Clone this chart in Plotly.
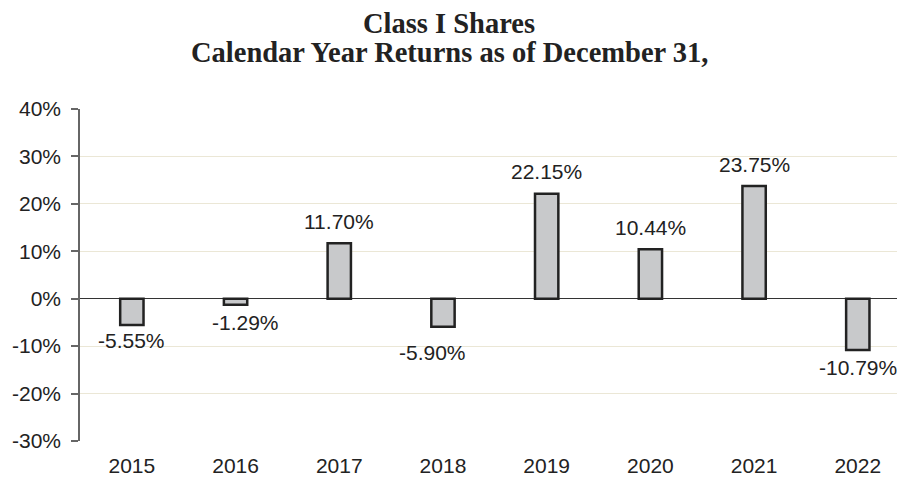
import plotly.graph_objects as go

years = ["2015", "2016", "2017", "2018", "2019", "2020", "2021", "2022"]
returns = [-5.55, -1.29, 11.70, -5.90, 22.15, 10.44, 23.75, -10.79]
value_labels = ["-5.55%", "-1.29%", "11.70%", "-5.90%", "22.15%", "10.44%", "23.75%", "-10.79%"]
y_tickvals = [-30, -20, -10, 0, 10, 20, 30, 40]
y_ticktext = ["-30%", "-20%", "-10%", "0%", "10%", "20%", "30%", "40%"]
title_lines = ["Class I Shares", "Calendar Year Returns as of December 31,"]

# label pixel offsets (styling)
label_dy = [-15, -18, 22, -26, 22, 22, 22, -18]
label_dx = [0, 10, 0, -10, 0, 0, 0, 0]

fig = go.Figure()
fig.add_trace(go.Bar(
    x=years, y=returns, width=0.225,
    marker=dict(color="#c8c9cb", line=dict(color="#222222", width=2.5)),
    hoverinfo="skip",
))

for i, (v, t, dy, dx) in enumerate(zip(returns, value_labels, label_dy, label_dx)):
    fig.add_annotation(x=i, y=v, text=t, showarrow=False, xref="x", yref="y",
                       yanchor="middle", xanchor="center", yshift=dy, xshift=dx,
                       font=dict(family="Liberation Sans, Arial", size=21, color="#222222"))

for line, ys in zip(title_lines, [86, 57]):
    fig.add_annotation(x=0.452, y=1, xref="paper", yref="paper", text="<b>" + line + "</b>",
                       showarrow=False, xanchor="center", yanchor="middle", yshift=ys,
                       font=dict(family="Liberation Serif, Times New Roman", size=28.5, color="#222222"))

fig.update_layout(
    width=897, height=477,
    margin=dict(l=80, r=0, t=109, b=36),
    paper_bgcolor="white", plot_bgcolor="white",
    showlegend=False,
    font=dict(family="Liberation Sans, Arial", size=21, color="#222222"),
)
fig.update_xaxes(type="category", range=[-0.5, 7.378], showgrid=False, showline=False,
                 zeroline=False, ticks="", ticklabelstandoff=10,
                 tickfont=dict(size=21, color="#222222"))
fig.update_yaxes(range=[-30, 40], tickvals=y_tickvals, ticktext=y_ticktext,
                 showgrid=True, gridcolor="#ebe7d6", gridwidth=1,
                 showline=True, linecolor="#666666", linewidth=1.5,
                 ticks="outside", ticklen=7, tickcolor="#666666", tickwidth=1.5,
                 ticklabelstandoff=6,
                 zeroline=True, zerolinecolor="#333333", zerolinewidth=1,
                 tickfont=dict(size=21, color="#222222"))

fig.write_html("out.html", config={"displayModeBar": False},
               post_script="document.body.style.margin='0';")
